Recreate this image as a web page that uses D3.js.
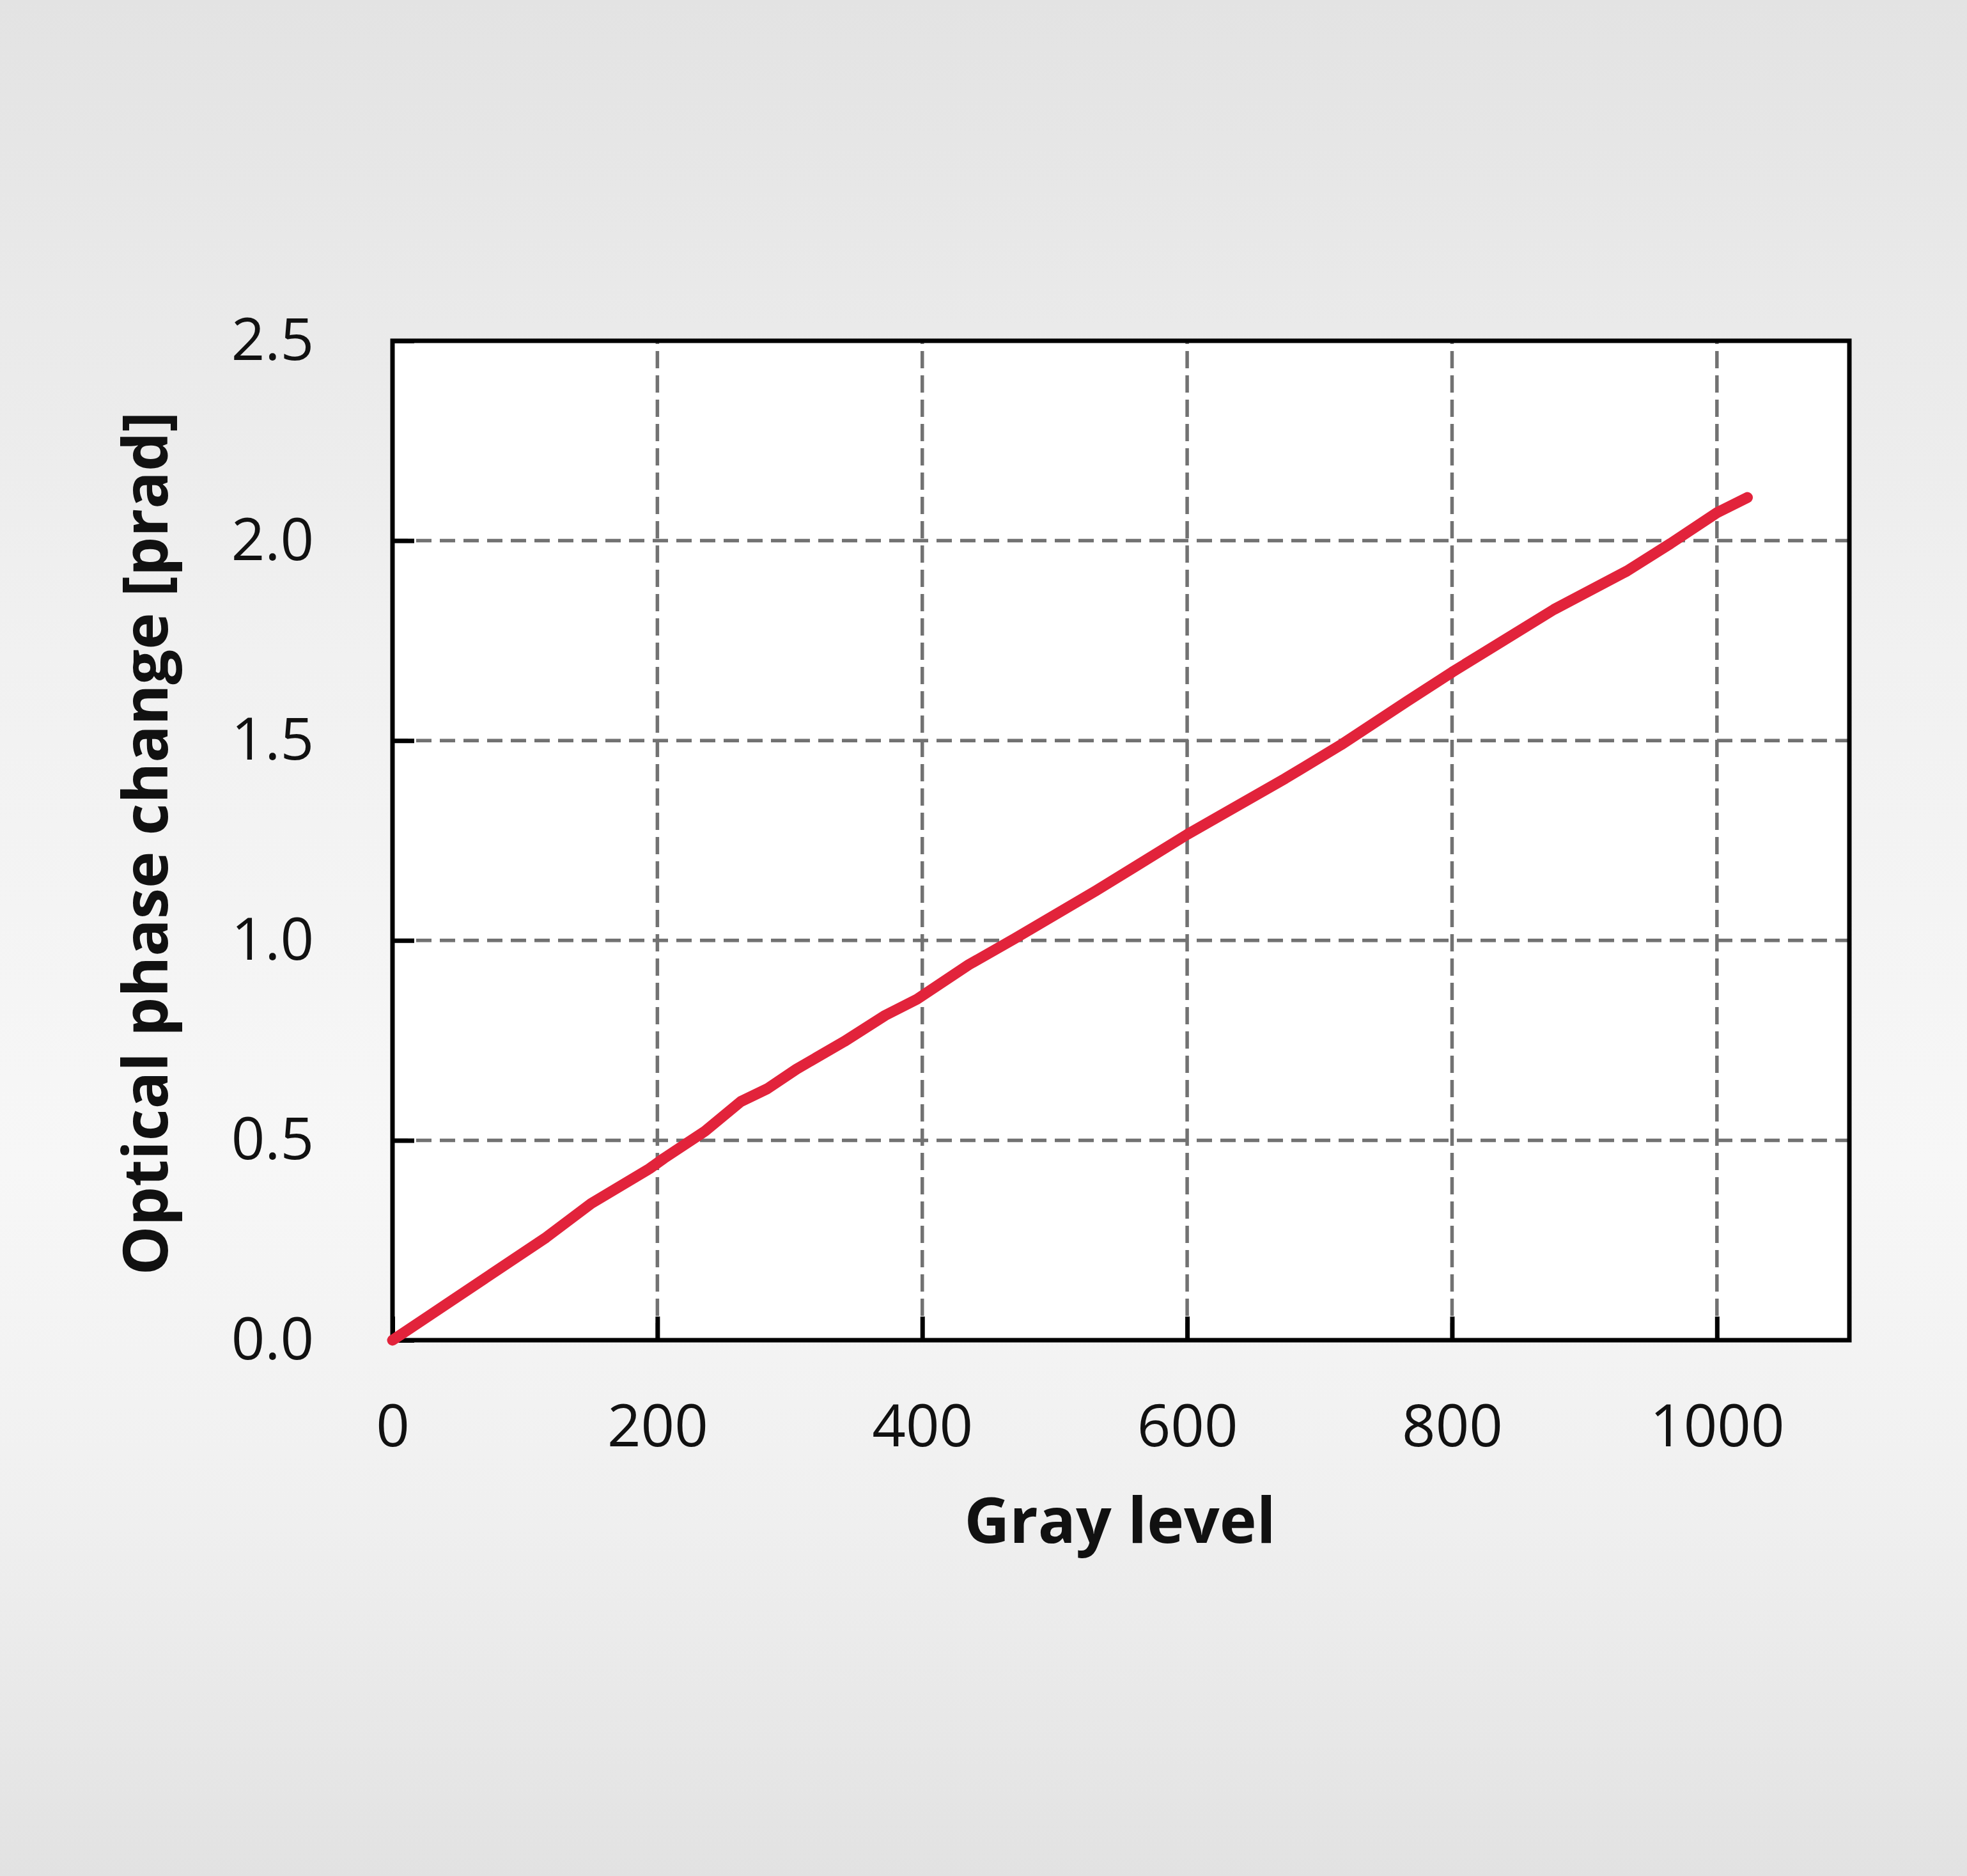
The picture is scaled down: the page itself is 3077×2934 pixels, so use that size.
<!DOCTYPE html>
<html>
<head>
<meta charset="utf-8">
<script src="https://cdn.jsdelivr.net/npm/d3@7"></script>
<style>
  html, body { margin: 0; padding: 0; }
  body { width: 3077px; height: 2934px; overflow: hidden; }
</style>
</head>
<body>
<svg id="chart" width="3077" height="2934"></svg>
<script>
// ---- data ----
const grayLevel = [0, 28, 116, 150, 194, 205, 236, 263, 283, 305, 341, 372, 396, 435, 470, 531, 600, 674, 716, 766, 800, 877, 932, 965, 1000, 1023];
const phaseChange = [0, 0.062, 0.257, 0.342, 0.429, 0.455, 0.523, 0.597, 0.629, 0.678, 0.747, 0.8125, 0.853, 0.939, 1.005, 1.124, 1.265, 1.405, 1.489, 1.598, 1.671, 1.828, 1.924, 1.993, 2.07, 2.108];
const xTicks = [0, 200, 400, 600, 800, 1000];
const yTicks = [0, 0.5, 1.0, 1.5, 2.0, 2.5];
const xTitle = "Gray level";
const yTitle = "Optical phase change [prad]";

(function () {
const W = 3077, H = 2934;
const pLeft = 614, pRight = 2893, pTop = 533, pBottom = 2096;

const svg = d3.select("#chart");

// background gradient
const defs = svg.append("defs");
const grad = defs.append("linearGradient").attr("id", "bg").attr("x1", 0).attr("y1", 0).attr("x2", 0).attr("y2", 1);
[[0, "#e3e3e3"], [0.35, "#f1f1f1"], [0.62, "#f7f7f7"], [0.8, "#f0f0f0"], [1, "#e2e2e2"]].forEach(([o, c]) =>
  grad.append("stop").attr("offset", o).attr("stop-color", c));
svg.append("rect").attr("width", W).attr("height", H).attr("fill", "url(#bg)");

const x = d3.scaleLinear().domain([0, 1100]).range([pLeft, pRight]);
const y = d3.scaleLinear().domain([0, 2.5]).range([pBottom, pTop]);

// plot area
svg.append("rect").attr("x", pLeft).attr("y", pTop).attr("width", pRight - pLeft).attr("height", pBottom - pTop).attr("fill", "#ffffff");

// gridlines
const grid = svg.append("g").attr("stroke", "#727272").attr("stroke-width", 5.5);
grid.selectAll("line.h").data(yTicks.filter(d => d > 0)).join("line").attr("class", "h")
  .attr("x1", pLeft).attr("x2", pRight).attr("y1", d => y(d)).attr("y2", d => y(d))
  .attr("stroke-dasharray", "24,13");
grid.selectAll("line.v").data(xTicks.filter(d => d > 0)).join("line").attr("class", "v")
  .attr("y1", pBottom).attr("y2", pTop).attr("x1", d => x(d)).attr("x2", d => x(d))
  .attr("stroke-dasharray", "27,11");

// axes (inside ticks)
const fmtY = d3.format(".1f");
const yAxis = svg.append("g").attr("transform", `translate(${pLeft},0)`)
  .call(d3.axisLeft(y).tickValues(yTicks).tickFormat(fmtY).tickSize(-34).tickPadding(123));
const xAxis = svg.append("g").attr("transform", `translate(0,${pBottom})`)
  .call(d3.axisBottom(x).tickValues(xTicks).tickFormat(d3.format("d")).tickSize(-37).tickPadding(101));
[yAxis, xAxis].forEach(a => {
  a.select(".domain").remove();
  a.selectAll(".tick line").attr("stroke", "#000").attr("stroke-width", 7);
  a.selectAll(".tick text").attr("fill", "#111").style("font-family", "'Open Sans', sans-serif").style("font-size", "92px");
});

// frame
svg.append("rect").attr("x", pLeft).attr("y", pTop).attr("width", pRight - pLeft).attr("height", pBottom - pTop)
  .attr("fill", "none").attr("stroke", "#000").attr("stroke-width", 7);

// data line
const line = d3.line().x((d, i) => x(grayLevel[i])).y((d, i) => y(phaseChange[i])).curve(d3.curveLinear);
svg.append("path").datum(phaseChange).attr("d", line)
  .attr("fill", "none").attr("stroke", "#e2233b").attr("stroke-width", 17)
  .attr("stroke-linecap", "round").attr("stroke-linejoin", "round");

// axis titles
svg.append("text").attr("x", 1752).attr("y", 2413).attr("text-anchor", "middle")
  .style("font-family", "'Open Sans', sans-serif").style("font-weight", "bold").style("font-size", "98px")
  .attr("fill", "#111").text(xTitle);
svg.append("text").attr("transform", "translate(262,1319) rotate(-90)").attr("text-anchor", "middle")
  .style("font-family", "'Open Sans', sans-serif").style("font-weight", "bold").style("font-size", "97px")
  .attr("fill", "#111").text(yTitle);
})();
</script>
</body>
</html>
